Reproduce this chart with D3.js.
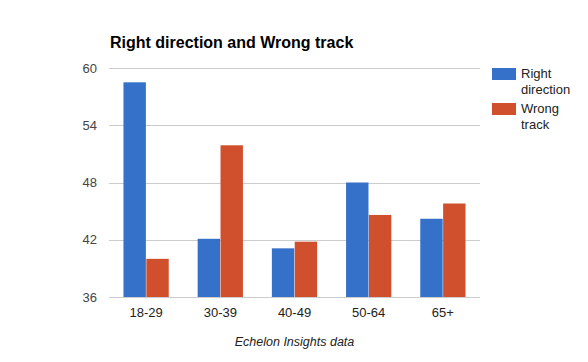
<!DOCTYPE html>
<html>
<head>
<meta charset="utf-8">
<script src="https://cdn.jsdelivr.net/npm/d3@7"></script>
<style>
  body { margin: 0; background: #fff; }
  text { font-family: "Liberation Sans", Arial, sans-serif; }
</style>
</head>
<body>
<div id="chart"></div>
<script>
// data
var ageGroups = ["18-29", "30-39", "40-49", "50-64", "65+"];
var seriesNames = ["Right direction", "Wrong track"];
var rightDirection = [58.5, 42.1, 41.1, 48.0, 44.2];
var wrongTrack = [40.0, 51.9, 41.8, 44.6, 45.8];
var yTicks = [36, 42, 48, 54, 60];
var colors = ["#3570c9", "#d0502e"];

var W = 588, H = 362;
var margin = {top: 68, right: 108, bottom: 65, left: 109},
    width = W - margin.left - margin.right,
    height = H - margin.top - margin.bottom;

var svg = d3.select("#chart").append("svg")
    .attr("width", W).attr("height", H);

var g = svg.append("g")
    .attr("transform", "translate(" + margin.left + "," + margin.top + ")");

var x0 = d3.scaleBand().domain(ageGroups).range([0, width]).paddingInner(0.39).paddingOuter(0.195);
var x1 = d3.scaleBand().domain(seriesNames).range([0, x0.bandwidth()]).paddingInner(0.02);
var y = d3.scaleLinear().domain([36, 60]).range([height, 0]);

//gridlines
g.selectAll("line.grid")
  .data(yTicks)
  .enter().append("line")
  .attr("class", "grid")
  .attr("x1", 0).attr("x2", width)
  .attr("y1", function(d) { return Math.round(y(d)) + 0.5; })
  .attr("y2", function(d) { return Math.round(y(d)) + 0.5; })
  .attr("stroke", "#cccccc");

// y axis labels
var yAxis = g.append("g")
  .call(d3.axisLeft(y).tickValues(yTicks).tickSize(0).tickPadding(12));
yAxis.select(".domain").remove();
yAxis.selectAll("text").attr("font-size", 13).attr("fill", "#444");

// bars
var rows = ageGroups.map(function(a, i) {
  return {age: a, vals: [rightDirection[i], wrongTrack[i]]};
});
var grp = g.selectAll("g.grp")
  .data(rows)
  .enter().append("g")
  .attr("transform", function(d) { return "translate(" + x0(d.age) + ",0)"; });

grp.selectAll("rect")
  .data(function(d) { return d.vals.map(function(v, j) { return {s: seriesNames[j], v: v, j: j}; }); })
  .enter().append("rect")
  .attr("x", function(d) { return x1(d.s); })
  .attr("width", x1.bandwidth())
  .attr("y", function(d) { return y(d.v); })
  .attr("height", function(d) { return height - y(d.v); })
  .attr("fill", function(d) { return colors[d.j]; });

// baseline
g.append("line")
  .attr("x1", 0).attr("x2", width)
  .attr("y1", Math.round(height) + 0.5).attr("y2", Math.round(height) + 0.5)
  .attr("stroke", "#cccccc");

// x axis
var xAxis = g.append("g")
  .attr("transform", "translate(0," + height + ")")
  .call(d3.axisBottom(x0).tickSize(0).tickPadding(11));
xAxis.select(".domain").remove();
xAxis.selectAll("text").attr("font-size", 13).attr("fill", "#222");

// title
svg.append("text")
  .attr("x", 110).attr("y", 48)
  .attr("font-size", 16).attr("font-weight", "bold").attr("fill", "#000")
  .text("Right direction and Wrong track");

// footer
svg.append("text")
  .attr("x", margin.left + width / 2).attr("y", 346)
  .attr("text-anchor", "middle")
  .attr("font-size", 12.5).attr("font-style", "italic").attr("fill", "#222")
  .text("Echelon Insights data");

// legend
var legendLines = [["Right", "direction"], ["Wrong", "track"]];
var leg = svg.selectAll("g.leg")
  .data(legendLines)
  .enter().append("g")
  .attr("transform", function(d, i) { return "translate(492," + (68 + i * 35) + ")"; });
leg.append("rect")
  .attr("width", 24).attr("height", 12)
  .attr("fill", function(d, i) { return colors[i]; });
leg.append("text")
  .attr("x", 29).attr("y", 10)
  .attr("font-size", 13).attr("fill", "#222")
  .selectAll("tspan")
  .data(function(d) { return d; })
  .enter().append("tspan")
  .attr("x", 29)
  .attr("dy", function(d, i) { return i ? 16 : 0; })
  .text(function(d) { return d; });
</script>
</body>
</html>
